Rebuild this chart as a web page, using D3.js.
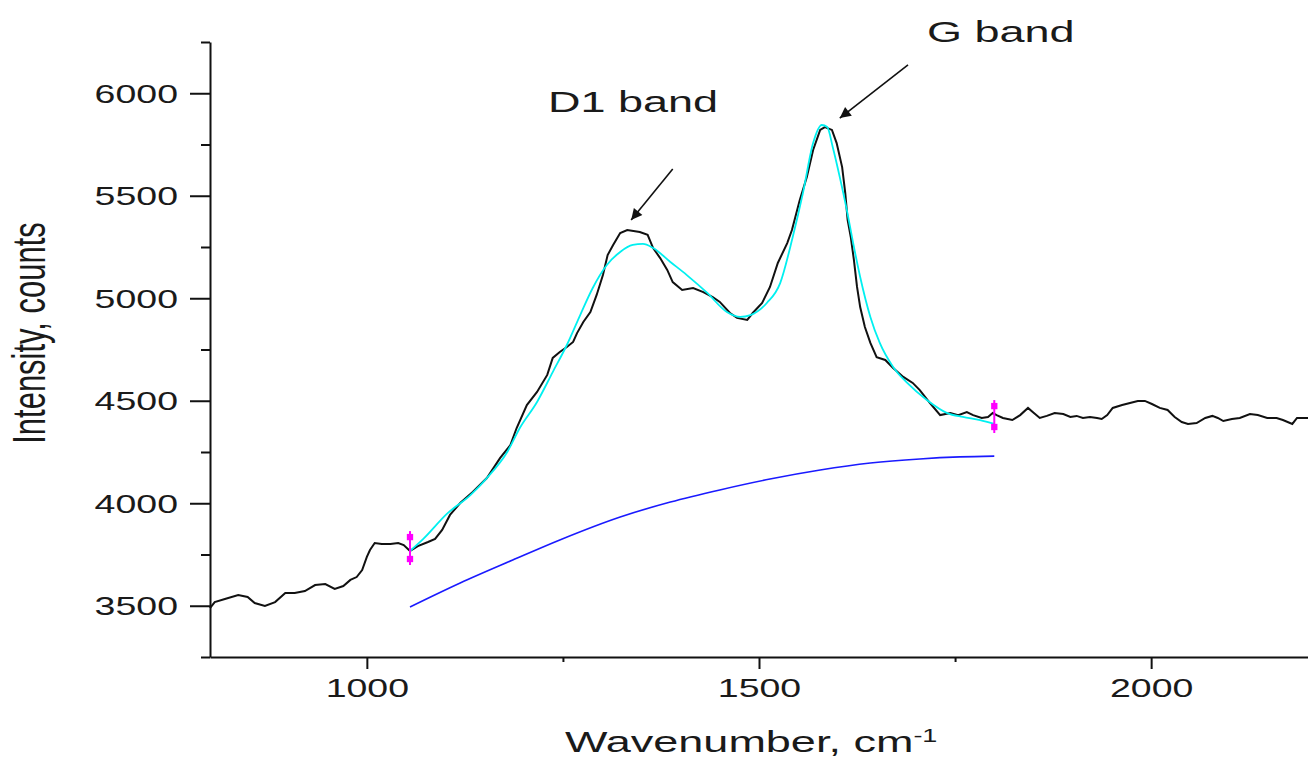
<!DOCTYPE html>
<html>
<head>
<meta charset="utf-8">
<script src="https://cdn.jsdelivr.net/npm/d3@7"></script>
<style>
  html, body { margin: 0; padding: 0; background: #fff; }
  svg { display: block; }
  text { font-family: "Liberation Sans", Arial, sans-serif; fill: #1a1a1a; }
</style>
</head>
<body>
<svg id="chart" width="1308" height="763"></svg>
<script>
// ---- Data ----
const spectrumX = [800,806,819,836,848,857,870,883,896,908,921,934,947,959,970,979,987,994,1000,1004,1010,1019,1030,1040,1047,1055,1065,1078,1087,1096,1106,1119,1135,1153,1170,1183,1191,1204,1217,1230,1237,1246,1255,1263,1268,1276,1285,1293,1301,1307,1314,1323,1332,1348,1358,1365,1374,1383,1390,1402,1416,1429,1441,1450,1463,1472,1485,1492,1504,1514,1524,1536,1542,1552,1561,1569,1578,1584,1593,1599,1606,1610,1613,1617,1621,1625,1629,1635,1642,1650,1661,1671,1684,1696,1705,1718,1731,1744,1754,1765,1773,1784,1792,1798,1803,1811,1823,1833,1843,1849,1858,1867,1877,1888,1897,1905,1913,1922,1931,1937,1944,1951,1963,1973,1983,1992,2001,2011,2021,2030,2039,2047,2058,2069,2078,2085,2092,2103,2113,2126,2136,2148,2160,2168,2180,2186,2200];
const spectrumY = [3489,3518,3533,3552,3543,3513,3499,3518,3562,3562,3572,3601,3606,3582,3596,3626,3640,3674,3738,3772,3806,3801,3801,3806,3796,3767,3791,3811,3826,3870,3943,4001,4055,4123,4221,4284,4367,4479,4543,4626,4709,4738,4762,4787,4830,4884,4933,5016,5113,5211,5260,5318,5333,5323,5309,5245,5196,5138,5079,5040,5050,5030,5006,4982,4928,4904,4894,4928,4977,5055,5172,5269,5333,5479,5591,5723,5821,5835,5821,5757,5640,5513,5382,5299,5187,5055,4957,4860,4782,4713,4699,4660,4616,4587,4552,4489,4430,4440,4430,4445,4430,4416,4421,4440,4430,4416,4406,4430,4465,4445,4416,4426,4440,4435,4421,4426,4416,4421,4416,4411,4430,4465,4479,4489,4499,4499,4484,4465,4455,4421,4396,4387,4391,4416,4426,4416,4401,4411,4416,4435,4430,4416,4416,4406,4387,4416,4416];

const fitX = [1055,1072,1102,1132,1153,1179,1195,1217,1237,1255,1272,1288,1306,1323,1339,1352,1365,1387,1408,1434,1459,1476,1489,1510,1527,1543,1556,1569,1580,1587,1594,1603,1612,1620,1629,1642,1654,1671,1689,1714,1740,1760,1782,1800];
const fitY = [3767,3826,3948,4040,4123,4250,4367,4494,4640,4772,4918,5050,5162,5226,5260,5265,5245,5177,5113,5026,4933,4909,4918,4977,5074,5299,5513,5757,5845,5835,5738,5591,5430,5270,5104,4909,4782,4665,4587,4504,4440,4421,4406,4387];

const baseX = [1055,1119,1186,1246,1323,1387,1450,1514,1578,1642,1705,1756,1800];
const baseY = [3494,3611,3723,3821,3933,4006,4065,4118,4162,4196,4216,4226,4230];

const markerX = [1055, 1800];
const markerHigh = [3835, 4474];
const markerLow = [3728, 4372];

const xMajorTicks = [1000, 1500, 2000];
const xMinorTicks = [1250, 1750];
const yMajorTicks = [3500, 4000, 4500, 5000, 5500, 6000];
const yMinorTicks = [3250, 3750, 4250, 4750, 5250, 5750, 6250];

const annotations = [
  { label: "D1 band", tx: 548, ty: 112, from: [1390, 5630], to: [1337, 5382] },
  { label: "G band",  tx: 927, ty: 42,  from: [1690, 6138], to: [1603, 5879] }
];

// ---- Chart ----
const svg = d3.select("#chart");
const x = d3.scaleLinear().domain([800, 2200]).range([210, 1308]);
const y = d3.scaleLinear().domain([3250, 6250]).range([657, 42]);
const STRETCH = 1.5;

// Axes
const yAxis = svg.append("g").attr("transform", "translate(210,0)")
  .call(d3.axisLeft(y).tickValues(yMajorTicks).tickSize(20).tickSizeOuter(0).tickFormat(d3.format("d")));
const yMinor = svg.append("g").attr("transform", "translate(210,0)")
  .call(d3.axisLeft(y).tickValues(yMinorTicks).tickSize(9).tickFormat(""));
yMinor.select(".domain").remove();

const xAxis = svg.append("g").attr("transform", "translate(0,657)")
  .call(d3.axisBottom(x).tickValues(xMajorTicks).tickSize(12).tickSizeOuter(0).tickFormat(d3.format("d")));
const xMinor = svg.append("g").attr("transform", "translate(0,657)")
  .call(d3.axisBottom(x).tickValues(xMinorTicks).tickSize(5).tickFormat(""));
xMinor.select(".domain").remove();

svg.selectAll(".domain, .tick line").attr("stroke", "#111").attr("stroke-width", 2);

yAxis.selectAll(".tick text")
  .attr("x", null).attr("dy", "0.35em")
  .attr("transform", `translate(-32,0) scale(${STRETCH},1)`)
  .style("font-size", "25px").style("font-family", "'Liberation Sans', Arial, sans-serif")
  .attr("fill", "#1a1a1a");

xAxis.selectAll(".tick text")
  .attr("y", null).attr("dy", null)
  .attr("transform", `translate(0,40) scale(${STRETCH},1)`)
  .style("font-size", "25px").style("font-family", "'Liberation Sans', Arial, sans-serif")
  .attr("fill", "#1a1a1a");

// Axis titles
const xt = svg.append("text")
  .attr("transform", `translate(565,752) scale(${STRETCH},1)`)
  .style("font-size", "30px");
xt.append("tspan").text("Wavenumber, cm");
xt.append("tspan").attr("dy", "-0.55em").style("font-size", "18px").text("-1");

svg.append("text")
  .attr("transform", `translate(45,333) scale(${STRETCH},1) rotate(-90)`)
  .attr("text-anchor", "middle")
  .style("font-size", "31px")
  .text("Intensity, counts");

// Lines
const line = d3.line().x(d => x(d[0])).y(d => y(d[1]));

svg.append("path")
  .datum(baseX.map((v, i) => [v, baseY[i]]))
  .attr("d", line.curve(d3.curveMonotoneX)).attr("fill", "none").attr("stroke", "#1a1aff").attr("stroke-width", 1.6);

svg.append("path")
  .datum(spectrumX.map((v, i) => [v, spectrumY[i]]))
  .attr("d", line.curve(d3.curveLinear)).attr("fill", "none").attr("stroke", "#111").attr("stroke-width", 2);

svg.append("path")
  .datum(fitX.map((v, i) => [v, fitY[i]]))
  .attr("d", line.curve(d3.curveMonotoneX)).attr("fill", "none").attr("stroke", "#00f0f0").attr("stroke-width", 1.8);

// Magenta range markers
const mk = svg.append("g");
markerX.forEach((mx, i) => {
  const px = x(mx);
  mk.append("line")
    .attr("x1", px).attr("x2", px)
    .attr("y1", y(markerHigh[i]) - 6).attr("y2", y(markerLow[i]) + 6)
    .attr("stroke", "#ff00ff").attr("stroke-width", 2);
  [markerHigh[i], markerLow[i]].forEach(v => {
    mk.append("path")
      .attr("d", d3.symbol(d3.symbolSquare, 40)())
      .attr("transform", `translate(${px},${y(v)})`)
      .attr("fill", "#ff00ff");
  });
});

// Annotations
const defs = svg.append("defs");
defs.append("marker").attr("id", "arrow")
  .attr("viewBox", "0 0 10 10").attr("refX", 10).attr("refY", 5)
  .attr("markerWidth", 17).attr("markerHeight", 11).attr("markerUnits", "userSpaceOnUse")
  .attr("orient", "auto")
  .append("path").attr("d", "M0,0 L10,5 L0,10 z").attr("fill", "#111");

annotations.forEach(a => {
  svg.append("text")
    .attr("transform", `translate(${a.tx},${a.ty}) scale(${STRETCH},1)`)
    .style("font-size", "30px")
    .text(a.label);
  svg.append("line")
    .attr("x1", x(a.from[0])).attr("y1", y(a.from[1]))
    .attr("x2", x(a.to[0])).attr("y2", y(a.to[1]))
    .attr("stroke", "#111").attr("stroke-width", 1.6)
    .attr("marker-end", "url(#arrow)");
});
</script>
</body>
</html>
